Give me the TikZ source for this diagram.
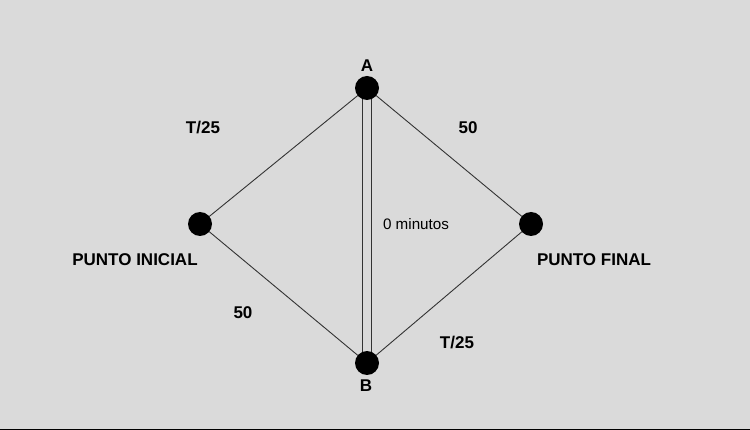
\documentclass[tikz,border=0pt]{standalone}
\usepackage{fontspec}
\setmainfont{Liberation Sans}
\definecolor{bg}{HTML}{DADADA}
\definecolor{edgecol}{HTML}{333333}
\begin{document}
\begin{tikzpicture}[x=1pt,y=-1pt,
  dot/.style={circle,fill=black,inner sep=0pt,minimum size=24pt},
  lbl/.style={font=\fontsize{17}{17}\selectfont\bfseries,inner sep=0pt,anchor=center},
  small/.style={font=\fontsize{15.2}{15.2}\selectfont,inner sep=0pt,anchor=center},
  edge/.style={draw=edgecol,line width=0.9pt}]
\fill[bg] (0,0) rectangle (750,430);
\useasboundingbox (0,0) rectangle (750,430);
\draw[black,line width=1.2pt] (0,429.3) -- (750,429.3);
\coordinate (A) at (367,88);
\coordinate (B) at (367,363);
\coordinate (PI) at (200,224);
\coordinate (PF) at (531,224);
\draw[edge] (A) -- (PI);
\draw[edge] (A) -- (PF);
\draw[edge] (PI) -- (B);
\draw[edge] (PF) -- (B);
\draw[edgecol,line width=0.9pt,double=bg,double distance=7.6pt] (A) -- (B);
\node[dot] (dA) at (A) {};
\node[dot] (dB) at (B) {};
\node[dot] (dPI) at (PI) {};
\node[dot] (dPF) at (PF) {};
\node[lbl] (la) at (367,66) {A};
\node[lbl] (lb) at (366,386) {B};
\node[lbl] (lpi) at (135,259.5) {PUNTO INICIAL};
\node[lbl] (lpf) at (594,259.5) {PUNTO FINAL};
\node[lbl] (t1) at (203,127.5) {T/25};
\node[lbl] (f1) at (468,127.5) {50};
\node[lbl] (f2) at (243,313) {50};
\node[lbl] (t2) at (457,343) {T/25};
\node[small] (m) at (416,224) {0 minutos};
\end{tikzpicture}
\end{document}
